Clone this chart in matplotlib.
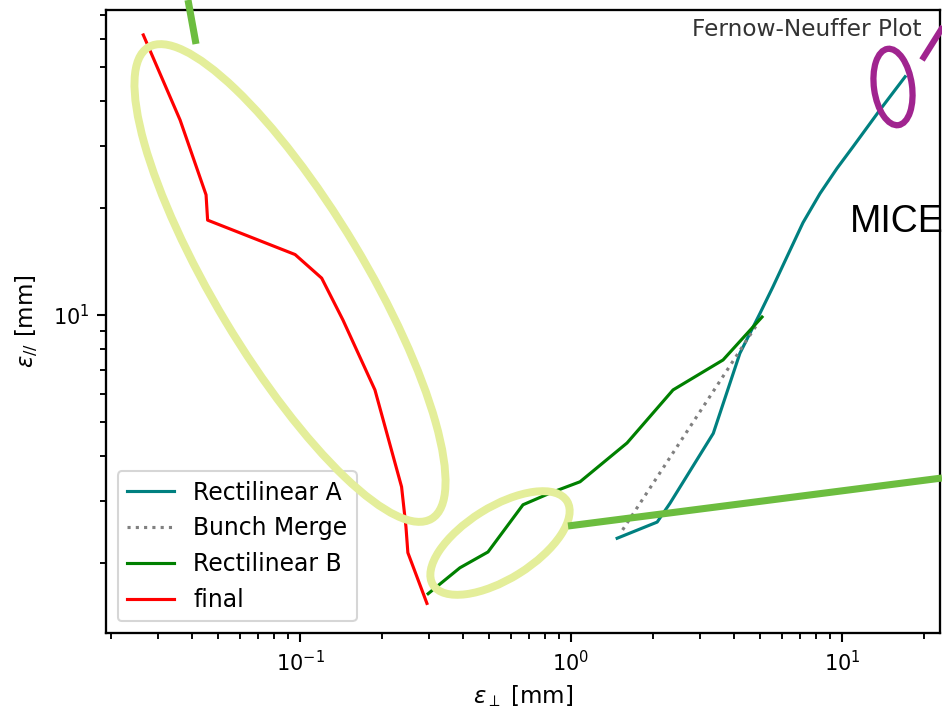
import matplotlib
matplotlib.use("Agg")
import matplotlib.pyplot as plt
from matplotlib.patches import Ellipse

# Rectilinear A
recA_x = [1.48, 2.08, 2.32, 3.35, 4.20, 4.98, 5.56, 6.27, 7.18, 8.30, 9.59, 10.99, 13.8, 17.1]
recA_y = [2.35, 2.61, 2.95, 4.64, 7.80, 10.1, 12.0, 14.6, 18.2, 22.0, 25.9, 29.8, 37.8, 46.9]

# Bunch Merge
merge_x = [1.55, 4.9]
merge_y = [2.48, 9.5]

# Rectilinear B
recB_x = [0.297, 0.389, 0.494, 0.665, 0.837, 1.08, 1.61, 2.38, 3.64, 5.07]
recB_y = [1.64, 1.94, 2.15, 2.92, 3.15, 3.39, 4.36, 6.15, 7.47, 9.87]

# final
final_x = [0.0264, 0.0361, 0.0450, 0.0456, 0.0959, 0.1202, 0.144, 0.189, 0.237, 0.246, 0.250, 0.294]
final_y = [61.5, 35.4, 21.8, 18.5, 14.8, 12.7, 9.68, 6.15, 3.28, 2.53, 2.14, 1.54]

W, H, DPI = 942, 713, 150
fig = plt.figure(figsize=(W / DPI, H / DPI), dpi=DPI)
ax = fig.add_axes([106 / W, (H - 633) / H, (940 - 106) / W, (633 - 10) / H])

ax.plot(recA_x, recA_y, color="teal", lw=1.5, label="Rectilinear A")
ax.plot(merge_x, merge_y, color="gray", ls=":", lw=1.5, label="Bunch Merge")
ax.plot(recB_x, recB_y, color="green", lw=1.5, label="Rectilinear B")
ax.plot(final_x, final_y, color="red", lw=1.5, label="final")

ax.set_xscale("log")
ax.set_yscale("log")
ax.set_xlim(0.01923, 23.0)
ax.set_ylim(1.271, 72.3)
ax.set_xlabel(r"$\varepsilon_\perp$ [mm]", fontsize=11)
ax.set_ylabel(r"$\varepsilon_{//}$ [mm]", fontsize=11, labelpad=6)
ax.tick_params(which="major", length=4.5, width=1.0, labelsize=10)
ax.tick_params(which="minor", length=3, width=0.9)
for s in ax.spines.values():
    s.set_linewidth(1.1)
ax.text(0.978, 0.968, "Fernow-Neuffer Plot", transform=ax.transAxes,
        ha="right", va="center", fontsize=11.2, color="#333333")
ax.legend(loc="lower left", fontsize=11.3, labelspacing=0.5)

# slide overlays
ov = fig.add_axes([0, 0, 1, 1], zorder=10)
ov.set_xlim(0, W)
ov.set_ylim(H, 0)
ov.axis("off")
ov.patch.set_alpha(0)
yel = "#e4ee9a"
ov.add_patch(Ellipse((290, 283), 550, 150, angle=59, fill=False, ec=yel, lw=3.8))
ov.add_patch(Ellipse((500, 543), 158, 72, angle=-32, fill=False, ec=yel, lw=3.8))
grn = "#6cbd3f"
ov.plot([188, 196], [0, 44], color=grn, lw=3.4, solid_capstyle="butt")
ov.plot([568, 942], [526, 478], color=grn, lw=3.4, solid_capstyle="butt")
pur = "#a0248f"
ov.add_patch(Ellipse((893, 87), 38, 77, angle=-8, fill=False, ec=pur, lw=3.0))
ov.plot([922, 944], [60, 25], color=pur, lw=3.0, solid_capstyle="butt")
ov.text(850, 232, "MICE", fontsize=18, family="Liberation Sans", color="black",
        ha="left", va="baseline")

fig.savefig("out.png", dpi=DPI)
